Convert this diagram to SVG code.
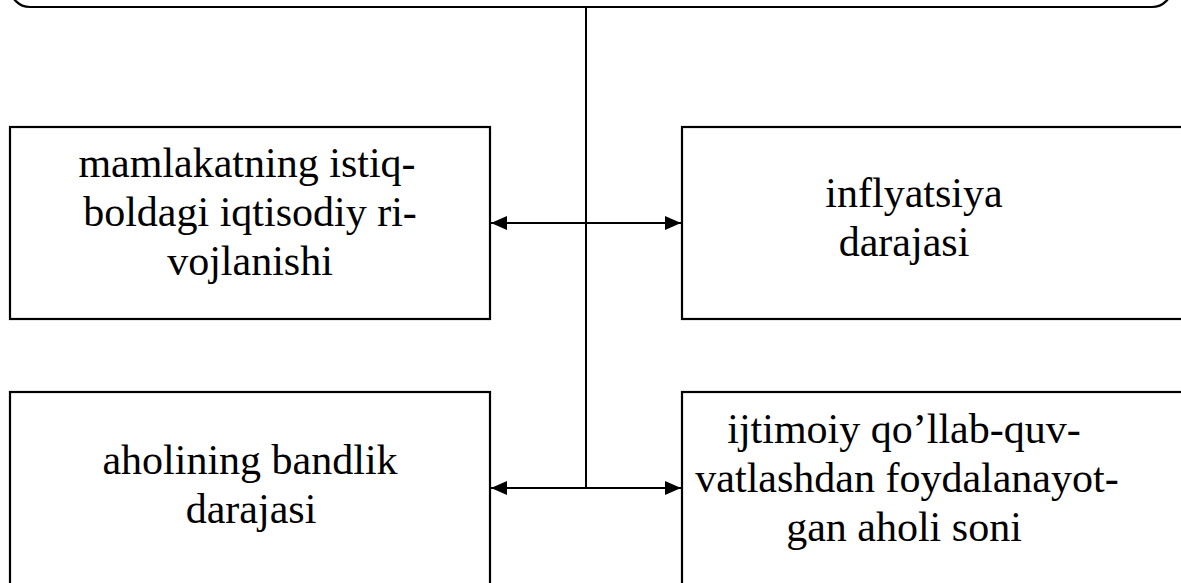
<svg xmlns="http://www.w3.org/2000/svg" width="1181" height="583" viewBox="0 0 1181 583">
<style>
.box{fill:#fff;stroke:#000;stroke-width:2.2}
.t{font-family:"Liberation Serif","Times New Roman",serif;font-size:42px;fill:#000;text-anchor:middle}
.c{stroke:#000;stroke-width:2;fill:none}
</style>
<defs>
<marker id="ah" viewBox="0 0 16 14" refX="16" refY="7" markerWidth="16" markerHeight="14" markerUnits="userSpaceOnUse" orient="auto-start-reverse">
<path d="M0,0 L16,7 L0,14 Z" fill="#000"/>
</marker>
</defs>
<rect width="1181" height="583" fill="#fff"/>
<g id="top">
<rect class="box" x="10" y="-60" width="1162" height="67" rx="20"/>
</g>
<g id="n1">
<rect class="box" x="10" y="127" width="480" height="192"/>
<text class="t" x="247" y="177">mamlakatning istiq-</text>
<text class="t" x="250" y="226">boldagi iqtisodiy ri-</text>
<text class="t" x="250" y="275">vojlanishi</text>
</g>
<g id="n2">
<rect class="box" x="682" y="127" width="520" height="192"/>
<text class="t" x="914" y="207">inflyatsiya</text>
<text class="t" x="904" y="256">darajasi</text>
</g>
<g id="n3">
<rect class="box" x="10" y="392" width="480" height="210"/>
<text class="t" x="250" y="474">aholining bandlik</text>
<text class="t" x="251" y="523">darajasi</text>
</g>
<g id="n4">
<rect class="box" x="682" y="392" width="520" height="210"/>
<text class="t" x="904" y="443">ijtimoiy qo’llab-quv-</text>
<text class="t" x="907" y="492">vatlashdan foydalanayot-</text>
<text class="t" x="904" y="541">gan aholi soni</text>
</g>
<g id="connectors">
<line class="c" x1="586" y1="7" x2="586" y2="488"/>
<line class="c" x1="491" y1="223" x2="681" y2="223" marker-start="url(#ah)" marker-end="url(#ah)"/>
<line class="c" x1="491" y1="488" x2="681" y2="488" marker-start="url(#ah)" marker-end="url(#ah)"/>
</g>
</svg>
